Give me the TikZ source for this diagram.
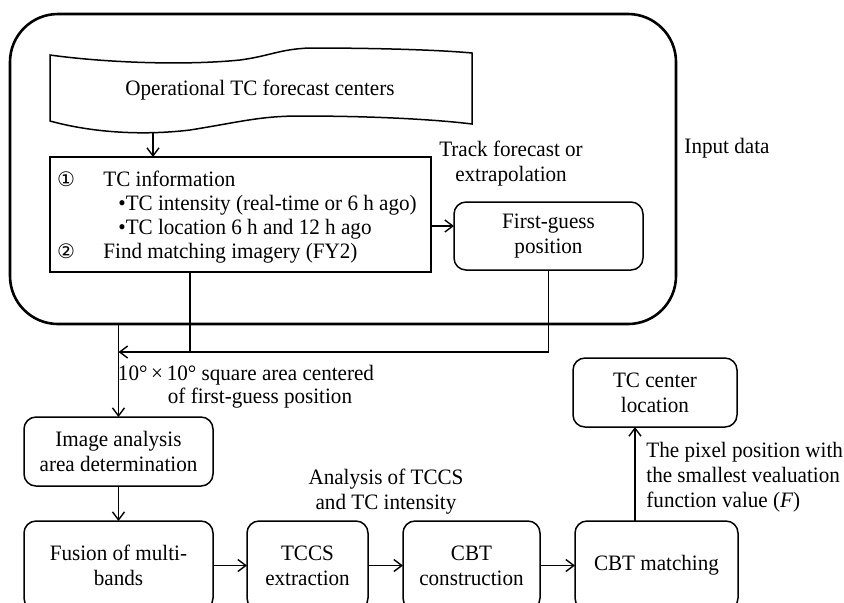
\documentclass[tikz,border=0pt]{standalone}
\usepackage{fontspec}
\setmainfont[FakeStretch=0.96]{Liberation Serif}
\newfontfamily\circfont{DejaVu Sans}
\usetikzlibrary{arrows.meta}
\begin{document}
\begin{tikzpicture}[x=0.5pt,y=-0.5pt, font=\fontsize{11}{12.5}\selectfont,
  box/.style={draw, line width=0.75pt, rounded corners=6pt, inner sep=0pt, outer sep=0pt, align=center},
  sqbox/.style={draw, line width=0.75pt, inner sep=0pt, outer sep=0pt},
  conn/.style={line width=0.7pt},
  arr/.style={conn, -{Straight Barb[length=4pt,width=6pt]}},
  lbl/.style={inner sep=0pt, align=center},
  txt/.style={inner sep=0pt, anchor=base west}]
\useasboundingbox (0,0) rectangle (844,602);
% outer group
\node[draw, line width=1.3pt, rounded corners=24pt, minimum width=333pt, minimum height=155pt, inner sep=0pt, outer sep=0pt] (outer) at (343,169) {};
% document shape
\draw[line width=0.75pt] (50,55) .. controls (100,62) and (180,66) .. (240,60) .. controls (270,56) and (280,49) .. (310,48) .. controls (380,48) and (440,50) .. (472,53) -- (472,124) .. controls (440,120) and (380,116) .. (300,116) .. controls (260,116) and (240,122) .. (190,130) .. controls (140,136) and (90,132) .. (50,121) -- cycle;
\node[lbl] (doctext) at (260,90) {Operational TC forecast centers};
\coordinate (docbot) at (153,133);
% info box
\node[sqbox, minimum width=190.5pt, minimum height=57.5pt] (info) at (240.5,214.5) {};
\node[inner sep=0pt, anchor=base] (c1) at (66,186) {\circfont\fontsize{10}{12}\selectfont ①};
\node[txt] (t1) at (103,186) {TC information};
\node[txt] (t2) at (118,210) {•TC intensity (real-time or 6 h ago)};
\node[txt] (t3) at (118,234) {•TC location 6 h and 12 h ago};
\node[inner sep=0pt, anchor=base] (c2) at (66,258) {\circfont\fontsize{10}{12}\selectfont ②};
\node[txt] (t4) at (103,258) {Find matching imagery (FY2)};
% first guess
\node[box, minimum width=94.5pt, minimum height=34pt] (fg) at (548.5,236) {First-guess\\position};
\node[lbl] (track) at (511,164) {Track forecast or\\extrapolation};
\node[lbl] (input) at (727,148) {Input data};
% lower boxes
\node[box, minimum width=94.5pt, minimum height=34.5pt] (ia) at (118.5,451.5) {Image analysis\\area determination};
\node[box, minimum width=94.5pt, minimum height=44.5pt] (fusion) at (118.5,565.5) {Fusion of multi-\\bands};
\node[box, minimum width=60.5pt, minimum height=44.5pt] (tccs) at (307.5,565.5) {TCCS\\extraction};
\node[box, minimum width=68.5pt, minimum height=44.5pt] (cbt) at (471.5,565.5) {CBT\\construction};
\node[box, minimum width=81.5pt, minimum height=44.5pt] (match) at (656.5,565.5) {CBT matching};
\node[box, minimum width=82pt, minimum height=34.5pt] (tc) at (655,392.5) {TC center\\location};
% labels
\node[lbl] (sq1) at (246,375) {10°\,×\,10° square area centered};
\node[lbl] (sq2) at (260,398) {of first-guess position};
\node[lbl] (anal) at (386,492) {Analysis of TCCS\\and TC intensity};
\node[lbl, align=left, anchor=west] (pix) at (646,477) {The pixel position with\\the smallest vealuation\\function value (\textit{F})};
% connectors
\draw[arr] (docbot) -- (docbot |- info.north);
\coordinate (ay) at (0,226);
\draw[arr] (info.east |- ay) -- (fg.west |- ay);
\coordinate (xa) at (190,0);
\coordinate (jy) at (0,352);
\draw[conn] (info.south -| xa) -- (xa |- jy);
\draw[arr] (fg.south) |- (ia.north |- jy);
\draw[arr] (outer.south -| ia.north) -- (ia.north);
\draw[arr] (ia) -- (fusion);
\draw[arr] (fusion) -- (tccs);
\draw[arr] (tccs) -- (cbt);
\draw[arr] (cbt) -- (match);
\coordinate (xm) at (635,0);
\draw[arr] (match.north -| xm) -- (tc.south -| xm);
\end{tikzpicture}
\end{document}
